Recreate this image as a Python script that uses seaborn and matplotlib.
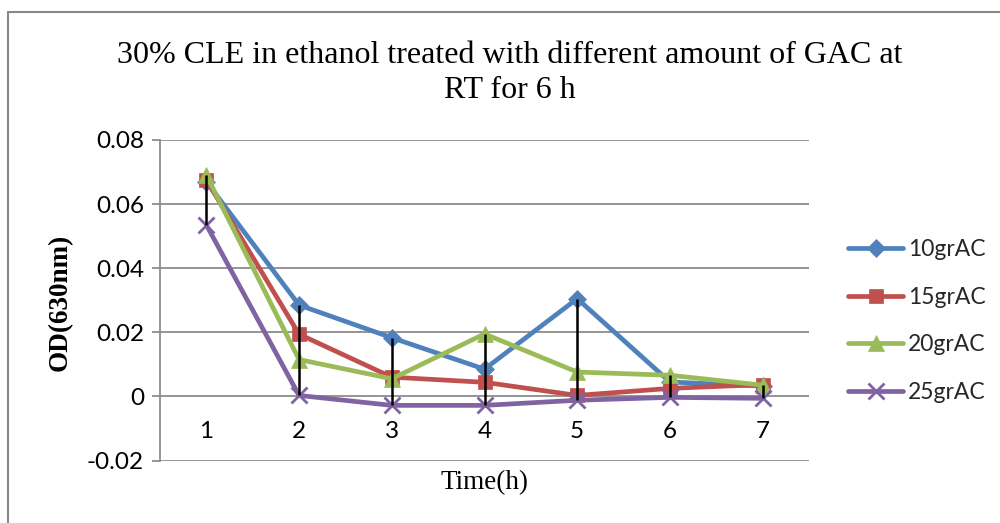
import matplotlib
matplotlib.use("Agg")
import matplotlib.pyplot as plt
from matplotlib.lines import Line2D
import seaborn as sns
import numpy as np

# ---- data ----
times = [1, 2, 3, 4, 5, 6, 7]
series_names = ["10grAC", "15grAC", "20grAC", "25grAC"]
ac10 = [0.0670, 0.0285, 0.0183, 0.0085, 0.0305, 0.0045, 0.0032]
ac15 = [0.0675, 0.0194, 0.0060, 0.0044, 0.0003, 0.0025, 0.0037]
ac20 = [0.0690, 0.0115, 0.0055, 0.0195, 0.0076, 0.0066, 0.0035]
ac25 = [0.0535, 0.0003, -0.0028, -0.0028, -0.0012, -0.0003, -0.0006]
y_ticks = [-0.02, 0, 0.02, 0.04, 0.06, 0.08]
y_tick_labels = ["-0.02", "0", "0.02", "0.04", "0.06", "0.08"]
title = "30% CLE in ethanol treated with different amount of GAC at\nRT for 6 h"
x_label = "Time(h)"
y_label = "OD(630nm)"

colors = ["#4F81BD", "#C0504D", "#9BBB59", "#8064A2"]
markers = ["D", "s", "^", "x"]
msizes = [9.5, 10.5, 11.5, 11.5]

sns.set_theme(style="white")
plt.rcParams["font.family"] = ["Lato", "DejaVu Sans"]

fig = plt.figure(figsize=(10, 5.23), dpi=100)
W, H = 1000, 523
ax = fig.add_axes([160 / W, 1 - 460.5 / H, 649 / W, 320.5 / H])

all_vals = [ac10, ac15, ac20, ac25]
for name, vals, c, m, ms in zip(series_names, all_vals, colors, markers, msizes):
    sns.lineplot(x=times, y=vals, ax=ax, color=c, marker=m, markersize=ms,
                 markeredgecolor=c, markerfacecolor=c,
                 markeredgewidth=2.0 if m == "x" else 0.5,
                 linewidth=3.4, label=name, zorder=3)

# high-low lines
arr = np.array(all_vals)
ax.vlines(times, arr.min(axis=0), arr.max(axis=0), color="black", lw=1.8, zorder=5)

ax.set_xlim(0.5, 7.5)
ax.set_ylim(-0.02, 0.08)
ax.set_yticks(y_ticks)
ax.set_yticklabels(y_tick_labels)
ax.set_xticks(times)
ax.set_xticklabels([str(t) for t in times])

grid_c = "#8C8C8C"
ax.yaxis.grid(True, color=grid_c, lw=1.3, zorder=0)
ax.xaxis.grid(False)
for s in ["top", "right"]:
    ax.spines[s].set_visible(False)
ax.spines["left"].set_color(grid_c)
ax.spines["left"].set_linewidth(1.3)
ax.spines["bottom"].set_position(("data", 0))
ax.spines["bottom"].set_visible(False)

ax.tick_params(axis="y", which="both", left=True, length=5.8, width=1.3,
               color=grid_c, labelsize=17.5, pad=5.8, labelcolor="black")
ax.tick_params(axis="x", which="both", bottom=False, length=0,
               labelsize=17.5, pad=18, labelcolor="black")

ax.set_xlabel(x_label, fontsize=19.5, family=["Liberation Serif"], color="black")
ax.xaxis.set_label_coords(0.5, -0.07)
ax.xaxis.label.set_verticalalignment("center")
ax.set_ylabel(y_label, fontsize=19.5, family=["Liberation Serif"], fontweight="bold",
              color="black")
ax.yaxis.set_label_coords(-0.154, 0.4945)
ax.yaxis.label.set_verticalalignment("center")

fig.text(510 / W, 1 - 73 / H, title, ha="center", va="center", fontsize=23,
         family=["Liberation Serif"], linespacing=1.3, color="black")

leg = ax.legend(loc="center left", bbox_to_anchor=(839 / W, 1 - 321 / H),
                bbox_transform=fig.transFigure, frameon=False, fontsize=16.5,
                handlelength=2.4, handletextpad=0.2, labelspacing=1.15,
                borderaxespad=0)

# outer chart border
fig.add_artist(Line2D([8 / W, 1.0], [1 - 12 / H, 1 - 12 / H], color="#888888", lw=1.5))
fig.add_artist(Line2D([8 / W, 8 / W], [0, 1 - 12 / H], color="#888888", lw=1.5))

fig.savefig("out.png", dpi=100)
